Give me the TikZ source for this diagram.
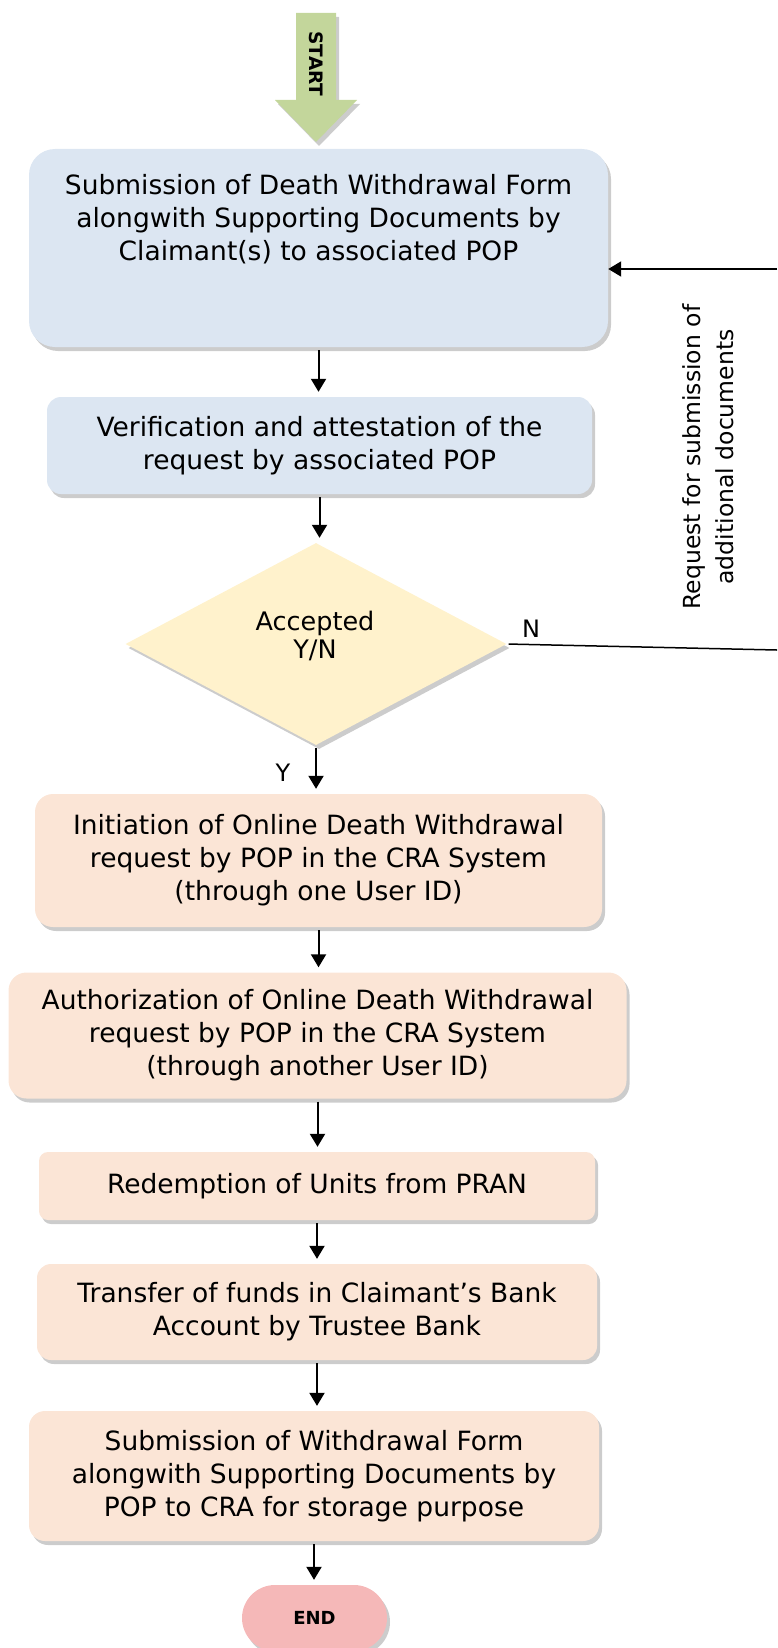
\documentclass[tikz,border=0pt]{standalone}
\usepackage{fontspec}
\setmainfont{DejaVu Sans}
\usetikzlibrary{shapes.geometric,arrows.meta,shadows}
\definecolor{bluefill}{HTML}{DCE6F2}
\definecolor{peachfill}{HTML}{FBE5D6}
\definecolor{diafill}{HTML}{FFF2CC}
\definecolor{startfill}{HTML}{C3D69B}
\definecolor{endfill}{HTML}{F5B8B8}
\begin{document}
\begin{tikzpicture}[x=1pt,y=-1pt,
  shad/.style={drop shadow={shadow xshift=3pt,shadow yshift=-4pt,fill=black!50,opacity=.4}},
  txt/.style={align=center,font=\fontsize{26.5}{33}\selectfont},
  blk/.style={txt,rounded corners=14pt,shad,inner sep=0pt},
  bluebox/.style={blk,fill=bluefill},
  peachbox/.style={blk,fill=peachfill},
  arr/.style={line width=2pt,-{Triangle[length=13pt,width=15pt]},shorten <=3pt,shorten >=5pt}]
\useasboundingbox (0,0) rectangle (777,1648);
\def\flow#1#2{
\draw[arr] (#1.south) -- (#1.south |- #2.north);
}
\path[fill=startfill,shad] (296,13) -- (336,13) -- (336,100) -- (357,100) -- (316,142) -- (275,100) -- (296,100) -- cycle;
\node[rotate=-90,font=\bfseries\fontsize{18.5}{20}\selectfont] (start) at (316,64) {START};
\node[bluebox,rounded corners=26pt,minimum width=579pt,minimum height=198pt] (box1) at (318.5,248) {};
\node[txt] (box1txt) at (318.5,219.5) {Submission of Death Withdrawal Form\\alongwith Supporting Documents by\\Claimant(s) to associated POP};
\node[bluebox,minimum width=545pt,minimum height=97pt] (box2) at (319.5,445.5) {Verification and attestation of the\\request by associated POP};
\node[diamond,fill=diafill,shad,inner sep=0pt,minimum width=381pt,minimum height=202pt] (accept) at (316,644) {};
\node[align=center,font=\fontsize{25.5}{28}\selectfont] (accepttxt) at (315,636) {Accepted\\Y/N};
\node[peachbox,rounded corners=18pt,minimum width=567pt,minimum height=133pt] (box3) at (318.5,860.5) {Initiation of Online Death Withdrawal\\request by POP in the CRA System\\(through one User ID)};
\node[peachbox,rounded corners=18pt,minimum width=618pt,minimum height=126pt] (box4) at (317.5,1035.5) {Authorization of Online Death Withdrawal\\request by POP in the CRA System\\(through another User ID)};
\node[peachbox,rounded corners=9pt,minimum width=556pt,minimum height=68pt] (box5) at (317,1186) {Redemption of Units from PRAN};
\node[peachbox,minimum width=560pt,minimum height=96pt] (box6) at (317,1312) {Transfer of funds in Claimant’s Bank\\Account by Trustee Bank};
\node[peachbox,rounded corners=16pt,minimum width=570pt,minimum height=130pt] (box7) at (314,1476) {Submission of Withdrawal Form\\alongwith Supporting Documents by\\POP to CRA for storage purpose};
\node[fill=endfill,shad,rounded corners=33pt,minimum width=145pt,minimum height=66pt,font=\bfseries\fontsize{18}{20}\selectfont] (end) at (314.5,1618) {END};
\flow{box1}{box2}
\flow{box2}{accept}
\flow{accept}{box3}
\flow{box3}{box4}
\flow{box4}{box5}
\flow{box5}{box6}
\flow{box6}{box7}
\flow{box7}{end}
\node[font=\fontsize{24}{28}\selectfont] (ylab) at (283,773) {Y};
\node[font=\fontsize{24}{28}\selectfont] (nlab) at (531,629) {N};
\coordinate (nout) at (777,650);
\coordinate (nin) at (777,269);
\draw[line width=1.5pt,shorten <=2pt] (accept.east) -- (nout);
\draw[arr,shorten <=0pt,shorten >=0pt] (nin) -- (nin -| box1.east);
\node[rotate=90,align=center,font=\fontsize{23.5}{33}\selectfont] (req) at (708,457) {Request for submission of\\additional documents};
\end{tikzpicture}
\end{document}
